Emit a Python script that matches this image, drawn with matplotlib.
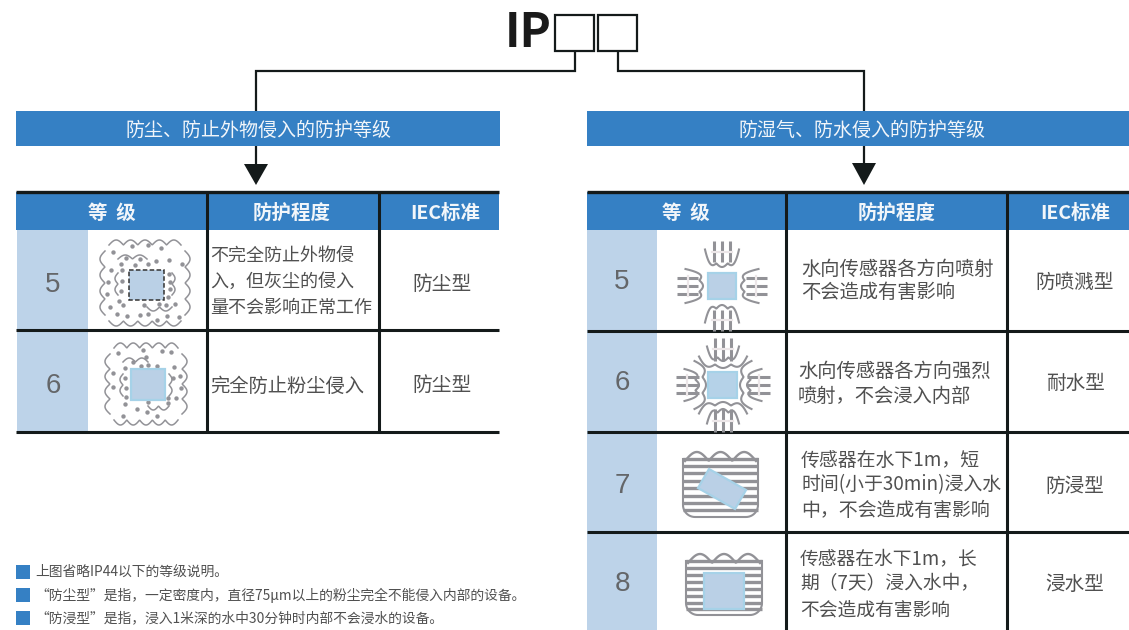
# IP code diagram: dust and water protection levels
import numpy as np
import matplotlib
matplotlib.use("Agg")
import matplotlib.pyplot as plt
from matplotlib.patches import Rectangle, Polygon

CJK = ['Noto Sans CJK SC', 'DejaVu Sans']
BLUE = '#3580C4'
LIGHT = '#BDD3E9'
DARK = '#141A1A'
TEXT = '#505050'
GREY = '#929297'
SENSOR = '#BAD0E6'
SENSOR_EDGE = '#A6D2E8'

band_titles = ['防尘、防止外物侵入的防护等级', '防湿气、防水侵入的防护等级']
header_labels = ['等  级', '防护程度', 'IEC标准']

dust_levels = ['5', '6']
dust_desc = [['不完全防止外物侵', '入，但灰尘的侵入', '量不会影响正常工作'], ['完全防止粉尘侵入']]
dust_types = ['防尘型', '防尘型']

water_levels = ['5', '6', '7', '8']
water_desc = [['水向传感器各方向喷射', '不会造成有害影响'],
              ['水向传感器各方向强烈', '喷射，不会浸入内部'],
              ['传感器在水下1m，短', '时间(小于30min)浸入水', '中，不会造成有害影响'],
              ['传感器在水下1m，长', '期（7天）浸入水中，', '不会造成有害影响']]
water_types = ['防喷溅型', '耐水型', '防浸型', '浸水型']

notes = ['上图省略IP44以下的等级说明。',
         '“防尘型”是指，一定密度内，直径75μm以上的粉尘完全不能侵入内部的设备。',
         '“防浸型”是指，浸入1米深的水中30分钟时内部不会浸水的设备。']

dust5_x = [113, 132, 148, 161, 126, 140, 156, 169, 121, 135, 148, 111, 122, 182, 169, 170, 122, 108,
           121, 107, 170, 168, 123, 144, 159, 166, 175, 110, 117, 127, 140, 148, 167, 157, 179, 119]
dust5_y = [252, 246, 245, 248, 258, 259, 261, 260, 264, 265, 264, 270, 270, 264, 274, 282, 281, 282,
           291, 294, 289, 297, 305, 305, 304, 305, 304, 307, 314, 316, 315, 314, 316, 320, 317, 301]
dust6_x = [118, 143, 162, 171, 133, 146, 148, 141, 157, 125, 113, 125, 113, 126, 126, 174, 180, 173,
           181, 168, 176, 125, 148, 137, 123, 147, 157, 168]
dust6_y = [353, 350, 351, 352, 362, 357, 365, 366, 366, 368, 373, 378, 387, 388, 397, 367, 376, 378,
           388, 398, 398, 404, 402, 409, 416, 412, 416, 403]

fig = plt.figure(figsize=(11.29, 6.30), dpi=100)
ax = fig.add_axes([0, 0, 1, 1])
ax.set_xlim(0, 1129)
ax.set_ylim(630, 0)
ax.axis('off')


def label(x, y, s, size=13.2, color=TEXT, ha='center', weight='normal', family=CJK):
    ax.text(x, y + 3, s, fontsize=size, color=color, ha=ha, va='center', fontweight=weight, family=family)


def box(x0, y0, x1, y1, color, z=1):
    ax.add_patch(Rectangle((x0, y0), x1 - x0, y1 - y0, fc=color, ec='none', zorder=z))


def line(xs, ys, color=DARK, lw=2.2, z=3):
    ax.plot(xs, ys, color=color, lw=lw, zorder=z, solid_capstyle='butt', solid_joinstyle='miter')


def scallop(x0, y0, x1, y1, n, h, lw=1.1):
    # wavy stroke between two points, bumps to the left of the direction
    t = np.linspace(0, 1, 24 * n)
    dx, dy = x1 - x0, y1 - y0
    d = np.hypot(dx, dy)
    off = h * np.abs(np.sin(np.pi * n * t))
    ax.plot(x0 + dx * t + dy / d * off, y0 + dy * t - dx / d * off, color=GREY, lw=lw, zorder=4)


def dust_icon(cx, cy, w, h, xs, ys):
    ax.scatter(xs, ys, s=10, color=GREY, linewidths=0, zorder=4)
    scallop(cx - w + 4, cy - h, cx + w - 4, cy - h, 5, 5)
    scallop(cx + w - 4, cy + h, cx - w + 4, cy + h, 5, 5)
    scallop(cx + w, cy - h + 6, cx + w, cy + h - 6, 4, 5)
    scallop(cx - w, cy + h - 6, cx - w, cy - h + 6, 4, 5)
    # broken inner ring
    iw, ih = w - 13, h - 14
    scallop(cx - iw, cy - ih, cx + 2, cy - ih, 2, 4)
    scallop(cx + iw, cy + ih, cx + 2, cy + ih, 2, 4)
    scallop(cx + iw, cy - 10, cx + iw, cy + 12, 2, 3)
    scallop(cx - iw, cy + 12, cx - iw, cy - 10, 2, 3)


def spray_icon(cx, cy, reach, start, arcs):
    for ang in range(4):
        c, s = np.cos(ang * np.pi / 2), np.sin(ang * np.pi / 2)
        rot = lambda u, v: (cx + u * c - v * s, cy + u * s + v * c)
        for v in (-8, 0, 8):
            a, b = rot(start, v), rot(reach, v)
            ax.plot([a[0], b[0]], [a[1], b[1]], color=GREY, lw=2.2, zorder=4, solid_capstyle='butt')
        for r0, wide, rise in arcs:
            t = np.linspace(-1, 1, 80)
            u = r0 + rise * t ** 4 + 3.5 * (1 - np.abs(np.sin(np.pi * 1.5 * (t + 1))))
            pts = [rot(a, b) for a, b in zip(u, t * wide)]
            ax.plot([p[0] for p in pts], [p[1] for p in pts], color=GREY, lw=1.5, zorder=4)
        a, b = rot(reach - 11, -10), rot(reach - 11, 10)
        ax.plot([a[0], b[0]], [a[1], b[1]], color='#ECE6E8', lw=1.6, zorder=5)


def tank_icon(x0, x1, y0, bottom, stripes, sensor):
    for y in stripes:
        ax.plot([x0, x1], [y, y], color=GREY, lw=2.4, zorder=4, solid_capstyle='butt')
    a = np.linspace(0, np.pi / 2, 12)
    r = 12
    left_x = x0 + r - r * np.cos(a)
    left_y = bottom - r + r * np.sin(a)
    xs = np.r_[x0, left_x, (x1 - r + r * np.cos(a))[::-1], x1]
    ys = np.r_[y0, left_y, left_y[::-1], y0]
    ax.plot(xs, ys, color=GREY, lw=1.5, zorder=4)
    scallop(x0 + 2, y0 + 2, x1 - 2, y0 + 2, 3, 9, lw=1.7)
    ax.add_patch(Polygon(sensor, closed=True, fc=SENSOR, ec=SENSOR_EDGE, lw=1.6, zorder=6))


# top title and connectors
label(528, 30, 'IP', size=34, color='#1A1A1A', weight='bold')
for x0, x1 in ((555, 594), (598, 637)):
    ax.add_patch(Rectangle((x0, 15), x1 - x0, 36, fc='white', ec=DARK, lw=1.6))
line([575, 575, 256, 256], [52, 71, 71, 111], lw=1.6)
line([618, 618, 864, 864], [52, 71, 71, 111], lw=1.6)
line([256, 256], [146, 166], lw=1.6)
line([864, 864], [146, 164], lw=1.6)
ax.add_patch(Polygon([(244, 164), (268, 164), (256, 185)], fc=DARK, ec='none', zorder=4))
ax.add_patch(Polygon([(852, 163), (876, 163), (864, 185)], fc=DARK, ec='none', zorder=4))

# title bands
box(16, 111, 500, 146, BLUE)
box(587, 111, 1129, 146, BLUE)
label(258, 127, band_titles[0], size=13.7, color='#F2F6FA')
label(862, 127, band_titles[1], size=13.7, color='#F2F6FA')

# left table
box(16, 192, 499, 230, BLUE)
box(17, 230, 88, 432, LIGHT)
line([16, 499], [191.5, 191.5], lw=2.4)
line([16, 499], [330, 330])
line([16, 499], [432, 432])
line([206.5, 206.5], [192, 432])
line([378.5, 378.5], [192, 432])
for cx, s in zip((112, 292, 445), header_labels):
    label(cx, 210, s, size=14, color='#F2F6FA', weight='bold')

dust_rows = [282, 383]
dust_lines = [[253, 279, 305], [383]]
dust_sizes = [13.0, 13.9]
for i, y in enumerate(dust_rows):
    label(53, y, dust_levels[i], size=20, color='#646669', family=['Liberation Sans'])
    label(442, y - 1, dust_types[i], size=14.2)
    for ly, s in zip(dust_lines[i], dust_desc[i]):
        label(210, ly, s, ha='left', size=dust_sizes[i])

dust_icon(145, 283, 40, 38, dust5_x, dust5_y)
box(129, 270, 164, 300, SENSOR, z=5)
ax.add_patch(Rectangle((129, 270), 35, 30, fc='none', ec='#333333', lw=1.1, ls=(0, (3, 1.5)), zorder=6))
dust_icon(146, 384, 36, 36, dust6_x, dust6_y)
ax.add_patch(Rectangle((131, 369), 34, 31, fc=SENSOR, ec=SENSOR_EDGE, lw=1.6, zorder=6))

# right table
box(587, 192, 1129, 230, BLUE)
box(587, 230, 657, 630, LIGHT)
line([587, 1129], [191.5, 191.5], lw=2.4)
for y in (331, 432, 532):
    line([587, 1129], [y, y])
line([785.5, 785.5], [192, 630])
line([1007, 1007], [192, 630])
for cx, s in zip((686, 897, 1075), header_labels):
    label(cx, 210, s, size=14, color='#F2F6FA', weight='bold')

water_rows = [279, 380, 483, 581]
water_x = [801, 798, 801, 800]
water_sizes = [13.9, 13.9, 13.6, 13.5]
water_lines = [[266, 290], [368, 393], [457, 482, 508], [556, 581, 607]]
for i, y in enumerate(water_rows):
    label(622, y, water_levels[i], size=20, color='#646669', family=['Liberation Sans'])
    label(1075, y, water_types[i], size=14.1)
    for ly, s in zip(water_lines[i], water_desc[i]):
        label(water_x[i], ly, s, ha='left', size=water_sizes[i])

spray_icon(722, 286, 45, 24, [(19, 17, 14)])
ax.add_patch(Rectangle((708, 273), 28, 26, fc=SENSOR, ec=SENSOR_EDGE, lw=1.6, zorder=6))
spray_icon(723, 385, 47, 24, [(24, 16, 11), (17, 24, 8)])
ax.add_patch(Rectangle((708, 372), 29, 26, fc='#B5D2E8', ec=SENSOR_EDGE, lw=1.6, zorder=6))
tank_icon(683, 758, 459, 517, [459, 466, 473, 481, 488, 496, 503, 510],
          [(709, 469), (746, 490), (735, 509), (698, 488)])
tank_icon(686, 762, 561, 615, [561, 568, 575, 582, 589, 596, 603, 609],
          [(704, 573), (744, 573), (744, 609), (704, 609)])

# footnotes
for y, s in zip((569, 592, 615), notes):
    box(16, y - 4, 29.5, y + 9.5, BLUE)
    label(35, y, s, size=9.95, ha='left')

fig.savefig('out.png', dpi=100)
